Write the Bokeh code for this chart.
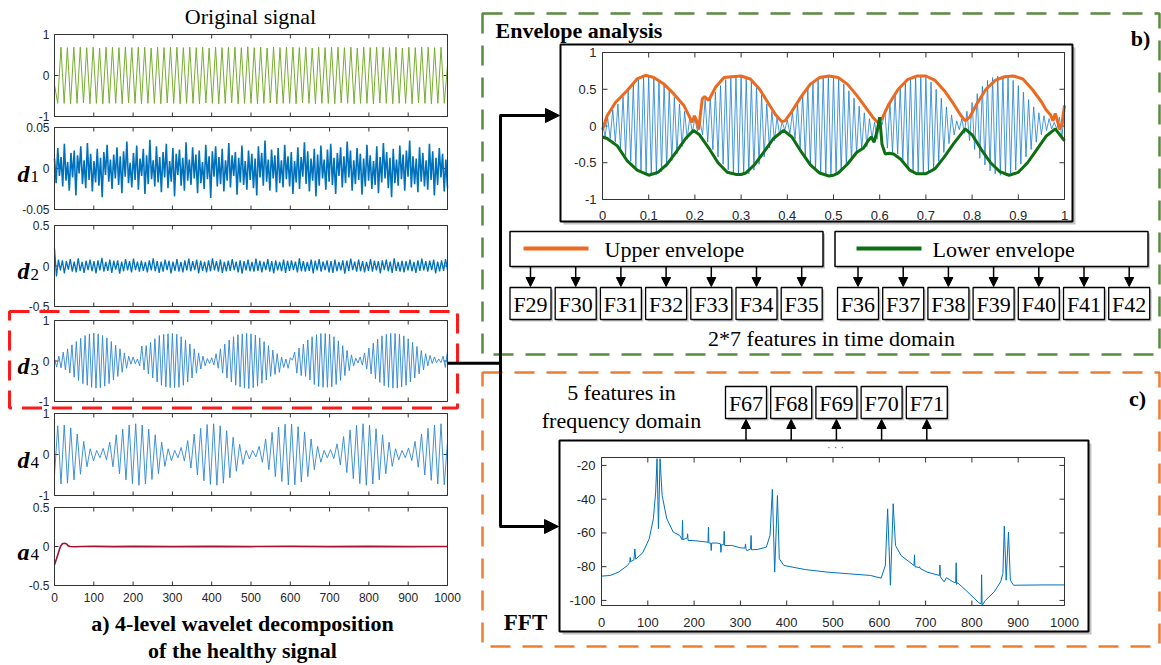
import numpy as np
from bokeh.plotting import figure
from bokeh.models import Range1d, Arrow, NormalHead
from bokeh.core.properties import value
from bokeh.embed import file_html
from bokeh.resources import INLINE

# ---------------- data ----------------
# Original signal: successive peak / trough values (sample axis 0..1000)
orig = [-0.23, -0.68,
        0.69, -0.68, 0.68, -0.69, 0.69, -0.68, 0.69, -0.67, 0.68, -0.69, 0.69, -0.68, 0.67, -0.69, 0.69, -0.68, 0.69, -0.68, 0.68, -0.69,
        0.69, -0.67, 0.68, -0.68, 0.69, -0.69, 0.69, -0.68, 0.67, -0.68, 0.69, -0.69, 0.68, -0.67, 0.69, -0.68, 0.69, -0.69, 0.68, -0.68,
        0.69, -0.68, 0.68, -0.69, 0.69, -0.67, 0.67, -0.68, 0.69, -0.69, 0.68, -0.68, 0.69, -0.67, 0.69, -0.69, 0.68, -0.68, 0.70, -0.68,
        0.68, -0.69, 0.69, -0.68, 0.67, -0.67, 0.69, -0.69, 0.68, -0.68, 0.69, -0.68, 0.69, -0.69, 0.68, -0.67, 0.69, -0.68, 0.67, -0.69,
        0.69, -0.68, 0.68, -0.68, 0.69, -0.69, 0.69, -0.67, 0.68, -0.68, 0.69, -0.69, 0.67, -0.68, 0.69, -0.68, 0.68, -0.69, 0.69, -0.67,
        0.69, -0.68, 0.68, -0.69, 0.69, -0.68, 0.67, -0.68, 0.69, -0.69, 0.68, -0.67, 0.69, -0.68, 0.69, -0.69, 0.68, -0.68, 0.69, -0.68,
        0.25]

# d1 detail (thousandths)
d1_x1000 = [12, -18, 25, -9, 14, -22, 30, -15, 8, -27, 19, -11, 22, -33, 16, -6, 27, -19, 10, -24,
            31, -14, 18, -28, 9, -17, 24, -21, 13, -35, 20, -8, 29, -16, 11, -25, 17, -12, 26, -20,
            15, -30, 21, -10, 33, -18, 7, -23, 19, -14, 28, -26, 12, -9, 24, -31, 16, -19, 35, -13,
            10, -22, 27, -17, 14, -29, 20, -11, 30, -24, 9, -16, 25, -34, 18, -8, 23, -21, 13, -27,
            32, -15, 11, -20, 26, -12, 17, -30, 22, -18, 8, -25, 29, -13, 15, -36, 21, -10, 27, -22,
            14, -19, 24, -28, 10, -15, 31, -23, 16, -9, 20, -32, 13, -17, 28, -20, 9, -26, 22, -14,
            18, -24, 12, -33, 27, -11, 19, -21, 34, -16, 11, -27, 23, -12, 16, -29, 25, -18, 10, -23,
            29, -13, 15, -22, 20, -31, 9, -17, 26, -25, 14, -10, 32, -19, 21, -28, 12, -15, 24, -34,
            17, -21, 28, -12, 11, -26, 23, -16, 30, -20, 13, -31, 19, -9, 26, -23, 15, -18, 33, -11,
            22, -27, 10, -19, 25, -14, 18, -32, 12, -22, 29, -15, 16, -25, 9, -20, 27, -30, 14, -17,
            31, -12, 20, -24, 13, -35, 24, -18, 11, -21, 28, -13, 17, -27, 22, -10, 34, -23, 15, -19,
            12, -29, 26, -16, 19, -22, 10, -26, 30, -14, 21, -33, 13, -20, 25, -11, 18, -28, 11, -24]

# d2 detail (thousandths)
d2_x1000 = [220, -130, 80, -55, 70, -90, 60, -45, 85, -70, 55, -80, 95, -60, 50, -85, 65, -50, 80, -65,
            60, -90, 70, -55, 100, -70, 50, -60, 80, -85, 65, -45, 70, -95, 55, -65, 85, -55, 60, -80,
            90, -50, 55, -70, 65, -60, 50, -80, 70, -55, 95, -65, 60, -85, 55, -70, 80, -50, 65, -90,
            55, -60, 85, -70, 50, -80, 70, -55, 90, -65, 60, -50, 80, -90, 65, -60, 55, -80, 70, -65,
            95, -55, 60, -70, 80, -85, 50, -65, 65, -60, 85, -50, 55, -80, 70, -95, 60, -55, 80, -65,
            50, -70, 90, -60, 65, -80, 55, -50, 85, -70, 60, -90, 70, -55, 50, -65, 80, -85, 65, -60,
            70, -50, 55, -80, 95, -65, 60, -70, 50, -60, 80, -90, 65, -55, 85, -70, 55, -50, 70, -80,
            60, -85, 80, -65, 50, -55, 70, -95, 65, -60, 90, -50, 55, -70, 80, -65, 60, -80, 50, -60,
            85, -70, 65, -55, 60, -90, 70, -50, 80, -65, 55, -85, 95, -60, 50, -70, 65, -80, 60, -55,
            80, -65, 50, -85, 70, -60, 90, -55, 60, -70, 65, -50, 80, -90, 55, -65, 70, -60, 85, -45]

# d3 detail: successive peak / trough values (also the signal of the envelope panel)
d3 = [0.05, -0.15, 0.12, -0.17, 0.22, -0.22, 0.30, -0.30, 0.40, -0.40, 0.48, -0.48, 0.56, -0.56, 0.63, -0.60,
      0.67, -0.65, 0.69, -0.67, 0.67, -0.66, 0.63, -0.62, 0.57, -0.56, 0.48, -0.47, 0.39, -0.38, 0.30, -0.28,
      0.20, -0.18, 0.12, -0.08, 0.10, -0.07, 0.05, -0.12, 0.37, -0.22, 0.38, -0.32, 0.46, -0.42, 0.55, -0.52,
      0.63, -0.60, 0.66, -0.64, 0.67, -0.66, 0.68, -0.66, 0.66, -0.65, 0.60, -0.60, 0.52, -0.52, 0.42, -0.42,
      0.30, -0.30, 0.20, -0.20, 0.12, -0.12, 0.06, -0.06, 0.08, -0.10, 0.18, -0.18, 0.30, -0.30, 0.42, -0.42,
      0.52, -0.52, 0.60, -0.60, 0.65, -0.64, 0.67, -0.67, 0.68, -0.68, 0.67, -0.66, 0.64, -0.62, 0.57, -0.55,
      0.48, -0.47, 0.38, -0.38, 0.27, -0.33, 0.18, -0.28, 0.10, -0.16, 0.05, -0.18, 0.08, 0.02, 0.22, -0.30,
      0.32, -0.36, 0.42, -0.38, 0.52, -0.47, 0.60, -0.58, 0.65, -0.63, 0.68, -0.65, 0.68, -0.65, 0.66, -0.64,
      0.60, -0.58, 0.50, -0.48, 0.38, -0.36, 0.26, -0.24, 0.15, -0.12, 0.07, -0.05, 0.10, -0.10, 0.20, -0.20,
      0.32, -0.32, 0.44, -0.44, 0.54, -0.53, 0.62, -0.61, 0.66, -0.65, 0.68, -0.67, 0.68, -0.67, 0.66, -0.64,
      0.62, -0.60, 0.55, -0.52, 0.46, -0.42, 0.36, -0.32, 0.26, -0.22, 0.18, -0.12, 0.14, -0.06, 0.10, -0.04,
      0.05, -0.04, 0.12, -0.16, 0.25]

# d4 detail: successive peak / trough values
d4 = [-0.50, 0.70, -0.72, 0.72, -0.70, 0.65, -0.62, 0.50, -0.48, 0.32, -0.30, 0.14, -0.15, 0.10, -0.08,
      0.15, -0.13, 0.30, -0.30, 0.48, -0.47, 0.62, -0.62, 0.72, -0.71, 0.75, -0.75, 0.72, -0.72, 0.62, -0.61,
      0.48, -0.47, 0.30, -0.29, 0.14, -0.15, 0.10, -0.08, 0.17, -0.16, 0.34, -0.33, 0.50, -0.50, 0.64, -0.64,
      0.73, -0.73, 0.75, -0.75, 0.70, -0.70, 0.58, -0.57, 0.42, -0.41, 0.25, -0.24, 0.10, -0.11, 0.10, -0.06,
      0.20, -0.19, 0.38, -0.37, 0.54, -0.54, 0.67, -0.66, 0.74, -0.74, 0.74, -0.74, 0.68, -0.67, 0.55, -0.54,
      0.38, -0.37, 0.20, -0.19, 0.10, -0.08, 0.12, -0.10, 0.26, -0.25, 0.44, -0.44, 0.60, -0.59, 0.71, -0.71,
      0.75, -0.75, 0.72, -0.72, 0.63, -0.62, 0.48, -0.47, 0.30, -0.29, 0.14, -0.13, 0.10, -0.08, 0.16, -0.15,
      0.32, -0.31, 0.50, -0.50, 0.64, -0.63, 0.72, -0.72, 0.75, -0.74, 0.30]

# a4 approximation
a4_n = [0, 5, 10, 15, 20, 25, 30, 35, 40, 50, 70, 100, 150, 200, 300, 400, 500, 600, 700, 800, 900, 1000]
a4_v = [-0.235, -0.16, -0.08, 0.0, 0.035, 0.043, 0.035, 0.008, 0.0, -0.003, 0.0, 0.002, -0.002, 0.001,
        -0.001, 0.002, -0.001, 0.001, -0.002, 0.002, -0.001, 0.0]

# upper / lower envelopes of d3 (time in s)
up_t = [0, 0.01, 0.028, 0.053, 0.075, 0.093, 0.111, 0.133, 0.154, 0.176, 0.187, 0.194, 0.199, 0.205, 0.208,
        0.216, 0.221, 0.23, 0.245, 0.263, 0.28, 0.3, 0.32, 0.34, 0.36, 0.375, 0.388, 0.395, 0.41, 0.43, 0.45,
        0.47, 0.49, 0.51, 0.53, 0.55, 0.57, 0.585, 0.595, 0.605, 0.62, 0.64, 0.66, 0.68, 0.7, 0.72, 0.74,
        0.76, 0.775, 0.785, 0.795, 0.81, 0.83, 0.85, 0.87, 0.89, 0.91, 0.93, 0.95, 0.96, 0.97, 0.975, 0.98,
        0.99, 0.995, 1.0]
up_v = [-0.05, 0.14, 0.32, 0.48, 0.64, 0.69, 0.66, 0.57, 0.44, 0.28, 0.14, 0.05, 0.14, 0.05, -0.05,
        0.37, 0.40, 0.35, 0.53, 0.66, 0.67, 0.68, 0.64, 0.50, 0.30, 0.15, 0.06, 0.07, 0.20, 0.40, 0.57,
        0.66, 0.68, 0.66, 0.57, 0.42, 0.25, 0.12, 0.05, 0.10, 0.30, 0.50, 0.63, 0.68, 0.68, 0.62, 0.48,
        0.30, 0.15, 0.07, 0.12, 0.30, 0.50, 0.62, 0.67, 0.68, 0.64, 0.50, 0.33, 0.22, 0.15, 0.07, 0.17,
        -0.05, 0.05, 0.28]
lo_t = [0, 0.01, 0.032, 0.053, 0.075, 0.1, 0.12, 0.14, 0.16, 0.18, 0.197, 0.21, 0.23, 0.25, 0.27, 0.29,
        0.3, 0.31, 0.33, 0.35, 0.37, 0.392, 0.41, 0.43, 0.45, 0.47, 0.49, 0.5, 0.51, 0.53, 0.55, 0.565,
        0.575, 0.582, 0.588, 0.595, 0.6, 0.605, 0.612, 0.62, 0.63, 0.645, 0.665, 0.68, 0.7, 0.72, 0.74,
        0.76, 0.785, 0.8, 0.82, 0.84, 0.86, 0.88, 0.9, 0.92, 0.94, 0.96, 0.98, 1.0]
lo_v = [-0.15, -0.17, -0.27, -0.47, -0.60, -0.67, -0.63, -0.52, -0.35, -0.17, -0.06, -0.12, -0.30, -0.50,
        -0.63, -0.66, -0.66, -0.64, -0.52, -0.35, -0.17, -0.06, -0.15, -0.35, -0.53, -0.64, -0.68, -0.67,
        -0.64, -0.52, -0.36, -0.30, -0.20, -0.15, -0.22, -0.05, 0.12, -0.25, -0.38, -0.37, -0.38, -0.45,
        -0.60, -0.65, -0.65, -0.58, -0.42, -0.24, -0.04, -0.12, -0.32, -0.50, -0.62, -0.67, -0.63, -0.50,
        -0.32, -0.14, -0.04, -0.20]

# FFT spectrum (dB)
fft_f = [0, 19, 37, 56, 61, 62, 63, 70, 72, 74, 89, 103, 112, 117, 120, 123, 126.5, 131, 141, 155, 169,
         174, 175, 176, 185, 186, 187, 197, 215, 230, 231, 232, 236, 237, 238, 250, 257, 258, 259, 264, 265,
         266, 281, 300, 310, 311, 312, 314, 322, 323, 324, 337, 356, 364, 369, 374, 380, 384, 394, 440, 487,
         534, 581, 604, 613, 618, 624, 630, 635, 647, 675, 676, 677, 686, 687, 688, 703, 730, 731, 732, 740,
         745, 759, 765, 766, 767, 769, 787, 806, 815, 820, 821, 822, 829, 848, 862, 867, 870, 874, 879, 883,
         890, 956, 1000]
fft_db = [-85.6, -85.2, -83.2, -79.3, -77.5, -74.5, -77.0, -76.0, -69.5, -75.5, -71.8, -63.5, -51.6, -35.8,
          -16.0, -57.5, -16.0, -37.8, -51.6, -59.5, -61.5, -64.0, -52.6, -64.0, -63.0, -60.5, -64.5, -64.5,
          -65.0, -65.5, -56.6, -66.0, -66.0, -70.4, -66.0, -66.0, -66.5, -71.5, -67.0, -67.0, -59.1, -67.5,
          -67.4, -68.8, -69.0, -66.5, -69.5, -70.5, -69.5, -61.5, -70.0, -69.8, -68.4, -61.5, -34.2, -83.2,
          -37.8, -75.3, -79.3, -81.7, -83.2, -84.2, -85.2, -86.8, -79.3, -45.7, -91.0, -42.7, -67.4, -73.4,
          -79.3, -73.0, -80.0, -80.5, -80.0, -81.0, -83.2, -85.2, -79.0, -86.0, -89.0, -86.5, -89.0, -89.5,
          -77.7, -90.5, -89.5, -94.0, -99.0, -101.4, -102.0, -84.8, -103.0, -100.0, -95.0, -89.0, -84.0,
          -56.0, -88.0, -59.5, -88.0, -91.0, -90.8, -90.8]

time_feats = ["F29", "F30", "F31", "F32", "F33", "F34", "F35"]
time_feats2 = ["F36", "F37", "F38", "F39", "F40", "F41", "F42"]
freq_feats = ["F67", "F68", "F69", "F70", "F71"]

# ---------------- canvas ----------------
W, H = 1161, 665
p = figure(width=W, height=H, x_range=Range1d(0, W), y_range=Range1d(0, H),
           x_axis_type=None, y_axis_type=None, toolbar_location=None,
           output_backend="svg", min_border=0)
p.outline_line_color = None
p.background_fill_color = "white"
p.border_fill_color = "white"


def Y(y):
    return H - y


SERIF = "Liberation Serif"
SANS = "Liberation Sans"
AX = "#333333"
TXT = "#262626"


def ctext(x, y, s, size, style="normal", align="center", baseline="middle", font=SERIF, color="black"):
    p.text(x=[x], y=[Y(y)], text=[s], text_font=value(font), text_font_size=value(f"{size}px"),
           text_font_style=style, text_align=align, text_baseline=baseline, text_color=color)


def cbox(l, t, r, b, lw=1.5, shadow=3, color="black"):
    if shadow:
        p.quad(left=[l + shadow], right=[r + shadow], top=[Y(t + shadow)], bottom=[Y(b + shadow)],
               fill_color="#c4c4c4", line_color=None)
    p.quad(left=[l], right=[r], top=[Y(t)], bottom=[Y(b)], fill_color="white",
           line_color=color, line_width=lw)


def dashed_box(l, t, r, b, color, lw, dash):
    p.quad(left=[l], right=[r], top=[Y(t)], bottom=[Y(b)], fill_color=None,
           line_color=color, line_width=lw, line_dash=dash)


def arrow(x0, y0, x1, y1, lw, size):
    p.add_layout(Arrow(end=NormalHead(size=size, fill_color="black", line_color="black", line_width=1),
                       x_start=x0, y_start=Y(y0), x_end=x1, y_end=Y(y1),
                       line_color="black", line_width=lw))


def make_axes(l, t, r, b, xr, yr, xticks, yticks, xlabels=None, ylabels=None,
              fs=12, tick_px=4, xlab_off=12, ylab_off=5):
    sub = p.subplot(x_source=Range1d(*xr), y_source=Range1d(*yr),
                    x_target=Range1d(l, r), y_target=Range1d(Y(b), Y(t)))
    dx = (xr[1] - xr[0]) / (r - l)
    dy = (yr[1] - yr[0]) / (b - t)
    xt = list(xticks)
    yt = list(yticks)
    nx, ny = len(xt), len(yt)
    sub.segment(x0=xt, y0=[yr[0]] * nx, x1=xt, y1=[yr[0] + tick_px * dy] * nx, line_color=AX, line_width=1)
    sub.segment(x0=xt, y0=[yr[1]] * nx, x1=xt, y1=[yr[1] - tick_px * dy] * nx, line_color=AX, line_width=1)
    sub.segment(x0=[xr[0]] * ny, y0=yt, x1=[xr[0] + tick_px * dx] * ny, y1=yt, line_color=AX, line_width=1)
    sub.segment(x0=[xr[1]] * ny, y0=yt, x1=[xr[1] - tick_px * dx] * ny, y1=yt, line_color=AX, line_width=1)
    if xlabels:
        sub.text(x=xt, y=[yr[0] - xlab_off * dy] * nx, text=xlabels, text_font=value(SANS),
                 text_font_size=value(f"{fs}px"), text_align="center", text_baseline="middle",
                 text_color=TXT)
    if ylabels:
        sub.text(x=[xr[0] - ylab_off * dx] * ny, y=yt, text=ylabels, text_font=value(SANS),
                 text_font_size=value(f"{fs}px"), text_align="right", text_baseline="middle",
                 text_color=TXT)
    return sub


def frame(sub, xr, yr):
    sub.quad(left=[xr[0]], right=[xr[1]], bottom=[yr[0]], top=[yr[1]], fill_color=None,
             line_color=AX, line_width=1)


# ---------------- dashed group boxes ----------------
dashed_box(482, 13, 1159, 354, "#5A8A3C", 2.5, "20 12")
dashed_box(482, 372, 1159, 646, "#ED7D31", 2.5, "20 12")

# ---------------- left column ----------------
L, R = 54, 447
xt_left = list(range(0, 1001, 100))
panels = [
    ("orig", 34, 116, (-1, 1), [-1, 0, 1], ["-1", "0", "1"]),
    ("d1", 127, 209, (-0.05, 0.05), [-0.05, 0, 0.05], ["-0.05", "0", "0.05"]),
    ("d2", 225, 306, (-0.5, 0.5), [-0.5, 0, 0.5], ["-0.5", "0", "0.5"]),
    ("d3", 320, 401, (-1, 1), [-1, 0, 1], ["-1", "0", "1"]),
    ("d4", 413, 495, (-1, 1), [-1, 0, 1], ["-1", "0", "1"]),
    ("a4", 507, 585, (-0.5, 0.5), [-0.5, 0, 0.5], ["-0.5", "0", "0.5"]),
]
series = {
    "orig": (np.array(orig), "#77AC30", 1.0),
    "d1": (np.array(d1_x1000) / 1000.0, "#0072BD", 1.6),
    "d2": (np.array(d2_x1000) / 1000.0, "#0072BD", 1.3),
    "d3": (np.array(d3), "#2E86D0", 0.9),
    "d4": (np.array(d4), "#2E86D0", 0.9),
}
ctext(250, 16, "Original signal", 22)
for name, t, b, yr, yt, yl in panels:
    is_last = name == "a4"
    sub = make_axes(L, t, R, b, (0, 1000), yr, xt_left, yt,
                    xlabels=[str(v) for v in xt_left] if is_last else None,
                    ylabels=yl, fs=12, tick_px=4, xlab_off=12, ylab_off=5)
    if name == "a4":
        sub.line(a4_n, a4_v, line_color="#A2142F", line_width=1.6)
    else:
        vals, col, lw = series[name]
        sub.line(np.linspace(0, 1000, len(vals)), vals, line_color=col, line_width=lw)
    frame(sub, (0, 1000), yr)
    if name != "orig":
        cy = (t + b) / 2
        ctext(17, cy + 5, name[0], 24, style="bold italic", align="left", baseline="alphabetic")
        ctext(30, cy + 8, name[1], 17, align="left", baseline="alphabetic")

ctext(242, 623, "a) 4-level wavelet decomposition", 22, style="bold")
ctext(242, 650, "of the healthy signal", 22, style="bold")

# red dashed highlight around d3
dashed_box(9, 311, 457, 407.5, "#FF1A1A", 3, "20 10")

# ---------------- envelope panel ----------------
cbox(560, 44, 1072, 221, lw=2, shadow=3)
ctext(495, 30, "Envelope analysis", 22, style="bold", align="left")
ctext(1140, 38, "b)", 22, style="bold")
exr, eyr = (0, 1), (-1, 1)
ext = [round(0.1 * i, 1) for i in range(11)]
esub = make_axes(602, 52, 1064, 199, exr, eyr, ext, [-1, -0.5, 0, 0.5, 1],
                 xlabels=["0"] + [f"{v:g}" for v in ext[1:-1]] + ["1"],
                 ylabels=["-1", "-0.5", "0", "0.5", "1"], fs=13, tick_px=5, xlab_off=16, ylab_off=6)
esub.line(np.linspace(0, 1, len(d3)), np.array(d3), line_color="#1B7FD0", line_width=0.8)
esub.line(up_t, up_v, line_color="#EC6A1F", line_width=3)
esub.line(lo_t, lo_v, line_color="#0D6E12", line_width=3)
frame(esub, exr, eyr)

# legend boxes
cbox(509.5, 231, 822.5, 266, lw=1.5, shadow=2)
cbox(834.5, 231, 1147.5, 266, lw=1.5, shadow=2)
p.line([523, 588], [Y(248), Y(248)], line_color="#EC6A1F", line_width=4)
p.line([856, 921], [Y(248), Y(248)], line_color="#0D6E12", line_width=4)
ctext(604, 249, "Upper envelope", 22, align="left")
ctext(932, 249, "Lower envelope", 22, align="left")

# feature boxes (time domain)
pitch, bw = 45.2, 41
for i, lab in enumerate(time_feats):
    l = 509.5 + i * pitch
    arrow(l + bw / 2, 266, l + bw / 2, 286, 1.5, 9)
    cbox(l, 287, l + bw, 319, lw=1.3, shadow=2)
    ctext(l + bw / 2, 304, lab, 22)
for i, lab in enumerate(time_feats2):
    l = 837 + i * pitch
    arrow(l + bw / 2, 266, l + bw / 2, 286, 1.5, 9)
    cbox(l, 287, l + bw, 319, lw=1.3, shadow=2)
    ctext(l + bw / 2, 304, lab, 22)
ctext(831, 338, "2*7 features in time domain", 22)

# ---------------- FFT panel ----------------
cbox(559, 440, 1088, 631, lw=2, shadow=3)
ctext(1137, 398, "c)", 22, style="bold")
ctext(621, 392, "5 features in", 22)
ctext(621, 420, "frequency domain", 22)
ctext(525, 622, "FFT", 23, style="bold")
ctext(835, 446, "· · ·", 11, font=SANS, color="#555555")
for i, lab in enumerate(freq_feats):
    l = 725 + i * pitch
    arrow(l + bw / 2, 440, l + bw / 2, 419, 1.5, 9)
    cbox(l, 386, l + bw, 418, lw=1.3, shadow=2)
    ctext(l + bw / 2, 403, lab, 22)
fxr, fyr = (0, 1000), (-103, -15.3)
fsub = make_axes(601, 457, 1064, 605, fxr, fyr, list(range(0, 1001, 100)), [-100, -80, -60, -40, -20],
                 xlabels=[str(v) for v in range(0, 1001, 100)],
                 ylabels=["-100", "-80", "-60", "-40", "-20"], fs=13, tick_px=5, xlab_off=17, ylab_off=6)
fsub.line(fft_f, fft_db, line_color="#0072BD", line_width=1)
frame(fsub, fxr, fyr)

# ---------------- connectors ----------------
p.line([447, 500], [Y(362.7), Y(362.7)], line_color="black", line_width=3)
p.line([500, 500], [Y(115), Y(526)], line_color="black", line_width=3)
arrow(499, 115, 559, 115, 3, 14)
arrow(499, 526, 558, 526, 3, 14)

open("out.html", "w").write(file_html(p, INLINE))
